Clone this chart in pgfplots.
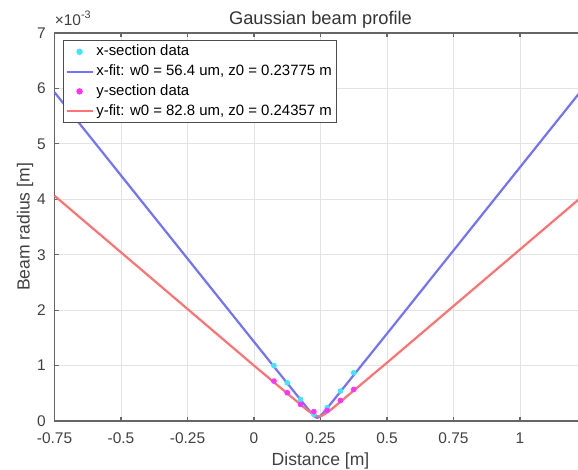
\documentclass[border=0pt]{standalone}
\usepackage{fontspec}
\setmainfont{Liberation Sans}
\usepackage{pgfplots}
\pgfplotsset{compat=1.18}

\definecolor{fitx}{rgb}{0.45,0.45,1}
\definecolor{fity}{rgb}{1,0.45,0.45}
\definecolor{datx}{rgb}{0.25,0.9,1}
\definecolor{daty}{rgb}{1,0.2,1}
\definecolor{axgray}{gray}{0.4}

\begin{document}
\begin{tikzpicture}
% page = 578 x 469 px, 1 px = 0.02cm; right side of the axis is cut off as in the reference
\useasboundingbox (0,0) rectangle (11.56cm,9.38cm);
\begin{axis}[
    at={(1.09cm,0.96cm)}, anchor=south west,
    scale only axis,
    width=10.64cm, height=7.76cm,
    xmin=-0.75, xmax=1.25,
    ymin=0, ymax=7,
    xtick={-0.75,-0.5,-0.25,0,0.25,0.5,0.75,1},
    ytick={0,1,2,3,4,5,6,7},
    clip=false,
    /pgf/number format/assume math mode=true,
    /pgf/number format/fixed,
    tick label style={font=\fontsize{8.8}{10}\selectfont, text=black!75},
    xticklabel style={anchor=base, yshift=-13pt},
    yticklabel style={xshift=-1.5pt},
    tick align=inside,
    major tick length=2.3pt,
    every tick/.style={axgray, line width=0.6pt},
    axis line style={axgray, line width=0.8pt},
    grid=major,
    grid style={gray!22, line width=0.5pt},
    title={Gaussian beam profile},
    title style={at={(0.5,1)}, anchor=base, yshift=-0.9pt, font=\fontsize{10.4}{12}\selectfont, text=black!80},
    xlabel={Distance [m]},
    ylabel={Beam radius [m]},
    xlabel style={at={(axis description cs:0.5,0)}, anchor=base, yshift=-25.5pt, font=\fontsize{10}{12}\selectfont, text=black!75},
    ylabel style={at={(axis description cs:-0.0555,0.5)}, anchor=center, font=\fontsize{10}{12}\selectfont, text=black!75},
    legend style={at={(0.016,0.982)}, anchor=north west, draw=black!70, line width=0.8pt, fill=white,
        font=\fontsize{8.5}{10}\selectfont, inner sep=1pt, row sep=0.6pt,
        nodes={inner sep=1.5pt}},
    legend cell align={left},
    legend image code/.code={\draw[mark repeat=2,mark phase=2,#1] plot coordinates {(0cm,0cm) (0.26cm,0cm) (0.52cm,0cm)};},
]
% x-section measurements
\addplot[only marks, mark=*, mark size=1.4pt, color=datx] coordinates {
    (0.075,1.00) (0.125,0.69) (0.175,0.39) (0.225,0.12) (0.275,0.24) (0.325,0.54) (0.375,0.87)
};
\addlegendentry{x-section data}

% x fit, w0 = 56.4 um, z0 = 0.23775 m
\addplot[color=fitx, line width=1.25pt] coordinates {
    (-0.75,5.931) (0,1.429) (0.2,0.234) (0.22,0.121) (0.23,0.073) (0.23775,0.0564)
    (0.245,0.071) (0.255,0.118) (0.275,0.231) (0.5,1.576) (1.25,6.079)
};
\addlegendentry{x-fit: w0 = 56.4 um, z0 = 0.23775 m}

% y-section measurements
\addplot[only marks, mark=*, mark size=1.4pt, color=daty] coordinates {
    (0.075,0.72) (0.125,0.51) (0.175,0.30) (0.225,0.17) (0.275,0.19) (0.325,0.37) (0.375,0.57)
};
\addlegendentry{y-section data}

% y fit, w0 = 82.8 um, z0 = 0.24357 m
\addplot[color=fity, line width=1.25pt] coordinates {
    (-0.75,4.064) (0,1.000) (0.2,0.197) (0.22,0.127) (0.235,0.090) (0.24357,0.0828)
    (0.252,0.090) (0.265,0.121) (0.29,0.207) (0.5,1.052) (1.25,4.117)
};
\addlegendentry{y-fit: w0 = 82.8 um, z0 = 0.24357 m}

\node[anchor=base west, font=\fontsize{8.8}{10}\selectfont, text=black!75, inner sep=0pt]
    at (axis description cs:0,1) [yshift=4.5pt] {×10\textsuperscript{-3}};
\end{axis}
\end{tikzpicture}
\end{document}
